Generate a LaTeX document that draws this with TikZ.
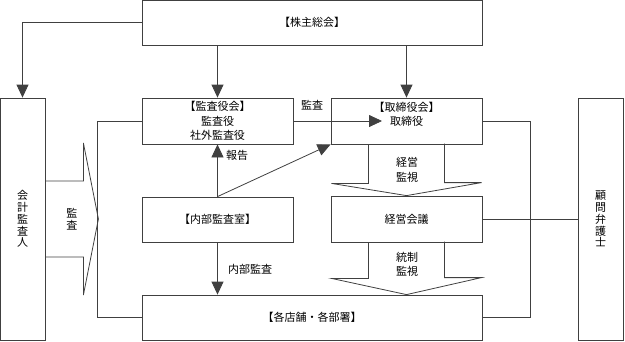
\documentclass[tikz,border=0pt]{standalone}
\usepackage{fontspec}
\setmainfont{Noto Sans CJK JP}
\usetikzlibrary{arrows.meta}
\begin{document}
\begin{tikzpicture}[x=1pt,y=-1pt,line width=0.8pt,draw=black!75,
  box/.style={draw=black!75,inner sep=0pt,align=center,font=\fontsize{11}{14.5}\selectfont},
  arr/.style={-{Triangle[length=13pt,width=12pt]}},
  lbl/.style={inner sep=1pt,align=center,font=\fontsize{11}{14.5}\selectfont},
  vlbl/.style={inner sep=1pt,align=center,font=\fontsize{11}{11.8}\selectfont}]
\useasboundingbox (0,0) rectangle (625,341);
\node[box,minimum width=340pt,minimum height=45pt] (kabu) at (312,22.5) {【株主総会】};
\node[box,minimum width=151pt,minimum height=46pt] (kansa) at (217.5,121) {【監査役会】\\監査役\\社外監査役};
\node[box,minimum width=151pt,minimum height=46pt] (tori) at (406.5,121) {【取締役会】\\取締役\\\mbox{}};
\node[box,minimum width=151pt,minimum height=45pt] (naibu) at (217.5,219.5) {【内部監査室】};
\node[box,minimum width=151pt,minimum height=46pt] (keiei) at (406.5,219) {経営会議};
\node[box,minimum width=340pt,minimum height=45pt] (tenpo) at (312,317.5) {【各店舗・各部署】};
\node[box,minimum width=45pt,minimum height=242pt,font=\fontsize{11}{11.8}\selectfont] (kaikei) at (22.5,219) {会\\計\\監\\査\\人};
\node[box,minimum width=45pt,minimum height=242pt,font=\fontsize{11}{11.8}\selectfont] (komon) at (600.5,219) {顧\\問\\弁\\護\\士};
\coordinate (kansaEnd) at (382,121);
% connectors
\draw[arr] (kabu.west) -| (kaikei.north);
\draw[arr] (kabu.south -| kansa.north) -- (kansa.north);
\draw[arr] (kabu.south -| tori.north) -- (tori.north);
\draw[arr] (kansa.east) -- (kansaEnd);
\draw[arr] (naibu.north) -- (kansa.south);
\draw[arr] (naibu.north) -- (tori.south west);
\draw[arr] (naibu.south) -- (naibu.south |- tenpo.north);
\draw (kansa.west) -- ++(-44,0) |- (tenpo.west);
\draw (tori.east) -- ++(48,0) |- (tenpo.east);
\draw (keiei.east) -- (komon.west);
% block arrows
\draw (kaikei.east) ++(0,-38) -- ++(38,0) -- ++(0,-38) -- ++(15,76) -- ++(-15,76) -- ++(0,-38) -- ++(-38,0);
\draw (tori.south) ++(-38,0) -- ++(0,39) -- ++(-37,0) -- (keiei.north) -- ++(75,-13) -- ++(-37,0) -- ++(0,-39);
\draw (keiei.south) ++(-38,0) -- ++(0,36) -- ++(-37,0) -- (keiei.south |- tenpo.north) -- ++(75,-17) -- ++(-37,0) -- ++(0,-36);
% labels
\node[lbl] (lKansa) at (312,105) {監査};
\node[lbl] (lHoukoku) at (237,155) {報告};
\node[lbl] (lNaibu) at (250,269) {内部監査};
\node[lbl] (lKanshi) at (407,170) {経営\\監視};
\node[lbl] (lTousei) at (407,264.5) {統制\\監視};
\node[vlbl] (lKaikei) at (72,219) {監\\査};
\end{tikzpicture}
\end{document}
